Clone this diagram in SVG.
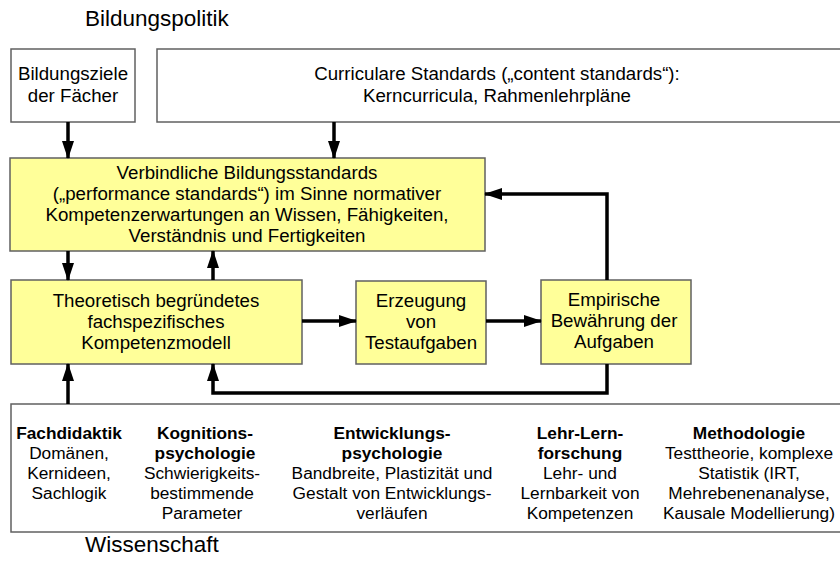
<svg xmlns="http://www.w3.org/2000/svg" width="840" height="576" viewBox="0 0 840 576">
<defs>
<marker id="ah" markerUnits="userSpaceOnUse" markerWidth="18" markerHeight="12" refX="17" refY="6" orient="auto">
<path d="M0,0 L18,6 L0,12 z" fill="#000"/>
</marker>
<style>
.box{fill:#fff;stroke:#606060;stroke-width:1.5}
.ybox{fill:#ffff99;stroke:#606060;stroke-width:1.5}
text{font-family:"Liberation Sans",Arial,sans-serif;fill:#000;text-anchor:middle}
.t{font-size:18.7px}
.s{font-size:17.3px}
.b{font-weight:bold}
.h{font-size:22.5px;text-anchor:start}
.c{fill:none;stroke:#000;stroke-width:3.5;marker-end:url(#ah)}
</style>
</defs>
<rect width="840" height="576" fill="#fff"/>
<text class="h" x="85" y="26">Bildungspolitik</text>
<text class="h" x="85" y="552">Wissenschaft</text>

<g id="ziele">
<rect class="box" x="11" y="49" width="124" height="73"/>
<text class="t" x="73" y="80">Bildungsziele</text>
<text class="t" x="73" y="102">der Fächer</text>
</g>
<g id="curricular">
<rect class="box" x="157" y="49" width="700" height="73"/>
<text class="t" x="497" y="80">Curriculare Standards („content standards“):</text>
<text class="t" x="497" y="102">Kerncurricula, Rahmenlehrpläne</text>
</g>
<g id="standards">
<rect class="ybox" x="10" y="158" width="475" height="93"/>
<text class="t" x="247" y="179">Verbindliche Bildungsstandards</text>
<text class="t" x="247" y="200">(„performance standards“) im Sinne normativer</text>
<text class="t" x="247" y="221">Kompetenzerwartungen an Wissen, Fähigkeiten,</text>
<text class="t" x="247" y="242">Verständnis und Fertigkeiten</text>
</g>
<g id="modell">
<rect class="ybox" x="11" y="280" width="291" height="84"/>
<text class="t" x="156" y="307">Theoretisch begründetes</text>
<text class="t" x="156" y="328">fachspezifisches</text>
<text class="t" x="156" y="349">Kompetenzmodell</text>
</g>
<g id="erzeugung">
<rect class="ybox" x="356" y="281" width="130" height="83"/>
<text class="t" x="421" y="307">Erzeugung</text>
<text class="t" x="421" y="328">von</text>
<text class="t" x="421" y="349">Testaufgaben</text>
</g>
<g id="empirie">
<rect class="ybox" x="541" y="280" width="150" height="84"/>
<text class="t" x="614" y="306">Empirische</text>
<text class="t" x="614" y="327">Bewährung der</text>
<text class="t" x="614" y="348">Aufgaben</text>
</g>
<g id="wissenschaft">
<rect class="box" x="11" y="404" width="850" height="128"/>
<text class="s b" x="69" y="439">Fachdidaktik</text>
<text class="s" x="69" y="459">Domänen,</text>
<text class="s" x="69" y="479">Kernideen,</text>
<text class="s" x="69" y="499">Sachlogik</text>
<text class="s b" x="205" y="439">Kognitions-</text>
<text class="s b" x="205" y="459">psychologie</text>
<text class="s" x="202" y="479">Schwierigkeits-</text>
<text class="s" x="202" y="499">bestimmende</text>
<text class="s" x="202" y="519">Parameter</text>
<text class="s b" x="392" y="439">Entwicklungs-</text>
<text class="s b" x="392" y="459">psychologie</text>
<text class="s" x="392" y="479">Bandbreite, Plastizität und</text>
<text class="s" x="392" y="499">Gestalt von Entwicklungs-</text>
<text class="s" x="392" y="519">verläufen</text>
<text class="s b" x="580" y="439">Lehr-Lern-</text>
<text class="s b" x="580" y="459">forschung</text>
<text class="s" x="580" y="479">Lehr- und</text>
<text class="s" x="580" y="499">Lernbarkeit von</text>
<text class="s" x="580" y="519">Kompetenzen</text>
<text class="s b" x="749" y="439">Methodologie</text>
<text class="s" x="749" y="459">Testtheorie, komplexe</text>
<text class="s" x="749" y="479">Statistik (IRT,</text>
<text class="s" x="749" y="499">Mehrebenenanalyse,</text>
<text class="s" x="749" y="519">Kausale Modellierung)</text>
</g>
<g id="connectors">
<path class="c" d="M68,122 L68,158"/>
<path class="c" d="M334,122 L334,158"/>
<path class="c" d="M68,251 L68,280"/>
<path class="c" d="M213,280 L213,251"/>
<path class="c" d="M302,321 L356,321"/>
<path class="c" d="M486,321 L541,321"/>
<path class="c" d="M607,280 L607,194 L485,194"/>
<path class="c" d="M607,364 L607,393 L213,393 L213,364"/>
<path class="c" d="M68,404 L68,364"/>
</g>
</svg>
